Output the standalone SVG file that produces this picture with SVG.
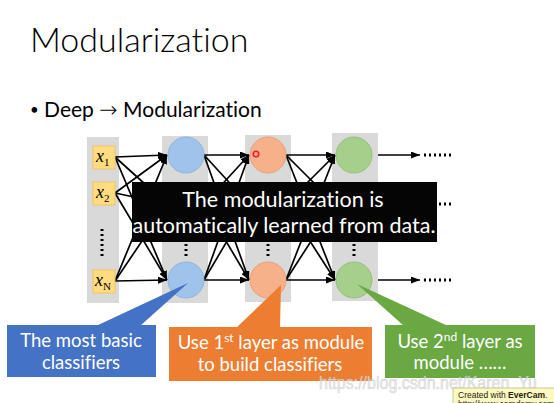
<svg xmlns="http://www.w3.org/2000/svg" width="554" height="403" viewBox="0 0 554 403">
<defs>
<style>
text{font-variant-ligatures:none}
.col{fill:#d9d9d9}
.xin{fill:#ffdc80;stroke:#f2c45e;stroke-width:1}
.xl{font-family:"Liberation Serif",serif;font-style:italic;font-size:18px;fill:#000}
.xs{font-family:"Liberation Serif",serif;font-style:normal;font-size:11px}
.ln{stroke:#000;stroke-width:1.7;fill:none;marker-end:url(#ah)}
.b{fill:#9fc3ea;stroke:#8fb3dc;stroke-width:1}
.o{fill:#f6b08a;stroke:#eaa07a;stroke-width:1}
.g{fill:#a6cf8b;stroke:#94c078;stroke-width:1}
.dots{stroke:#000;stroke-width:3;stroke-dasharray:2 3;fill:none}
.t{font-family:Lato,"Liberation Sans",sans-serif;fill:#fff}
.box{font-family:Lato,"Liberation Sans",sans-serif;fill:#fff;font-size:18.5px;text-anchor:middle}
</style>
<marker id="ah" markerWidth="9" markerHeight="7" refX="9" refY="3.5" orient="auto" markerUnits="userSpaceOnUse"><path d="M0,0 L9,3.5 L0,7 z" fill="#000"/></marker>
</defs>
<rect width="554" height="403" fill="#fff"/>
<g id="title">
<text x="30" y="52" font-family="Lato,'Liberation Sans',sans-serif" font-weight="300" font-size="34" fill="#000">Modularization</text>
<text x="30" y="117" font-family="Lato,'Liberation Sans',sans-serif" font-size="21" fill="#000"><tspan font-size="15" dy="-2">•</tspan><tspan dy="2"> Deep </tspan><tspan font-family="'DejaVu Sans',sans-serif" font-weight="300" font-size="22">→</tspan> Modularization</text>
</g>
<g id="columns">
<rect class="col" x="87" y="137" width="32" height="166"/>
<rect class="col" x="162" y="136" width="46" height="167"/>
<rect class="col" x="245" y="135" width="46" height="167"/>
<rect class="col" x="332" y="133" width="46" height="168"/>
</g>
<g id="connectors">
<line class="ln" x1="115" y1="157" x2="167" y2="155"/>
<line class="ln" x1="115" y1="157" x2="167" y2="204"/>
<line class="ln" x1="115" y1="157" x2="167" y2="280"/>
<line class="ln" x1="115" y1="193" x2="167" y2="155"/>
<line class="ln" x1="115" y1="193" x2="167" y2="204"/>
<line class="ln" x1="115" y1="193" x2="167" y2="280"/>
<line class="ln" x1="115" y1="281" x2="167" y2="155"/>
<line class="ln" x1="115" y1="281" x2="167" y2="204"/>
<line class="ln" x1="115" y1="281" x2="167" y2="280"/>
<line class="ln" x1="204" y1="155" x2="249" y2="155"/>
<line class="ln" x1="204" y1="155" x2="249" y2="204"/>
<line class="ln" x1="204" y1="155" x2="249" y2="280"/>
<line class="ln" x1="204" y1="204" x2="249" y2="155"/>
<line class="ln" x1="204" y1="204" x2="249" y2="204"/>
<line class="ln" x1="204" y1="204" x2="249" y2="280"/>
<line class="ln" x1="204" y1="280" x2="249" y2="155"/>
<line class="ln" x1="204" y1="280" x2="249" y2="204"/>
<line class="ln" x1="204" y1="280" x2="249" y2="280"/>
<line class="ln" x1="286" y1="155" x2="335" y2="155"/>
<line class="ln" x1="286" y1="155" x2="335" y2="204"/>
<line class="ln" x1="286" y1="155" x2="335" y2="280"/>
<line class="ln" x1="286" y1="204" x2="335" y2="155"/>
<line class="ln" x1="286" y1="204" x2="335" y2="204"/>
<line class="ln" x1="286" y1="204" x2="335" y2="280"/>
<line class="ln" x1="286" y1="280" x2="335" y2="155"/>
<line class="ln" x1="286" y1="280" x2="335" y2="204"/>
<line class="ln" x1="286" y1="280" x2="335" y2="280"/>
<line class="ln" x1="378" y1="155" x2="420" y2="155"/>
<line class="ln" x1="378" y1="204" x2="420" y2="204"/>
<line class="ln" x1="378" y1="280" x2="420" y2="280"/>
<line class="dots" x1="424" y1="155" x2="454" y2="155"/>
<line class="dots" x1="424" y1="204" x2="454" y2="204"/>
<line class="dots" x1="424" y1="280" x2="454" y2="280"/>
</g>
<g id="inputs">
<g id="x1"><rect class="xin" x="93" y="146" width="22" height="23"/><text class="xl" x="96" y="162">x<tspan class="xs" dy="4">1</tspan></text></g>
<g id="x2"><rect class="xin" x="93" y="182" width="22" height="23"/><text class="xl" x="96" y="198">x<tspan class="xs" dy="4">2</tspan></text></g>
<line class="dots" x1="102" y1="229" x2="102" y2="258"/>
<g id="xN"><rect class="xin" x="93" y="270" width="22" height="23"/><text class="xl" x="95" y="286">x<tspan class="xs" dy="4">N</tspan></text></g>
</g>
<g id="layer1">
<circle id="n1a" class="b" cx="186" cy="155" r="18"/>
<circle id="n1c" class="b" cx="186" cy="280" r="18"/>
<line class="dots" x1="186" y1="244" x2="186" y2="259"/>
</g>
<g id="layer2">
<circle id="n2a" class="o" cx="268" cy="155" r="18"/>
<circle id="n2c" class="o" cx="268" cy="280" r="18"/>
<line class="dots" x1="268" y1="244" x2="268" y2="259"/>
<circle cx="256" cy="154" r="2.8" fill="none" stroke="#e8202a" stroke-width="1.6"/>
</g>
<g id="layer3">
<circle id="n3a" class="g" cx="354" cy="155" r="18"/>
<circle id="n3c" class="g" cx="354" cy="280" r="18"/>
<line class="dots" x1="354" y1="244" x2="354" y2="259"/>
</g>
<g id="note">
<rect x="132" y="182" width="305" height="60" fill="#050505"/>
<text class="t" font-size="21.5" text-anchor="middle" x="283" y="207">The modularization is</text>
<text class="t" font-size="21.5" text-anchor="middle" x="284" y="233">automatically learned from data.</text>
</g>
<g id="callout-blue">
<polygon points="96,326 140,326 188,283" fill="#4472c4"/>
<rect x="7" y="325" width="149" height="52" fill="#4472c4"/>
<text class="box" x="81" y="347">The most basic</text>
<text class="box" x="81" y="369">classifiers</text>
</g>
<g id="callout-orange">
<polygon points="236,328 280,328 281,285" fill="#ed7d31"/>
<rect x="169" y="327" width="203" height="54" fill="#ed7d31"/>
<text class="box" x="271" y="349">Use 1<tspan font-size="12" dy="-7">st</tspan><tspan dy="7"> layer as module</tspan></text>
<text class="box" x="270" y="371">to build classifiers</text>
</g>
<g id="callout-green">
<polygon points="357,284 404,326 448,326" fill="#6aa842"/>
<rect x="385" y="325" width="150" height="53" fill="#6aa842"/>
<text class="box" x="460" y="348">Use 2<tspan font-size="12" dy="-7">nd</tspan><tspan dy="7"> layer as</tspan></text>
<text class="box" x="460" y="369">module ……</text>
</g>
<g id="watermark">
<text x="319" y="389" textLength="218" lengthAdjust="spacingAndGlyphs" font-family="'Liberation Sans',sans-serif" font-size="18" fill="#e6e6e6" fill-opacity="0.75" stroke="#bdbdbd" stroke-opacity="0.6" stroke-width="0.6">https://blog.csdn.net/Karen_Yu</text>
<rect x="453" y="388" width="102" height="20" fill="#fdf8bd" stroke="#c8c8a0" stroke-width="1"/>
<text x="458" y="398" font-family="'Liberation Sans',sans-serif" font-size="8.5" fill="#222">Created with <tspan font-weight="bold">EverCam</tspan>.</text>
<text x="458" y="407" font-family="'Liberation Sans',sans-serif" font-size="8.5" fill="#222">http://www.camdemy.com</text>
</g>
</svg>
